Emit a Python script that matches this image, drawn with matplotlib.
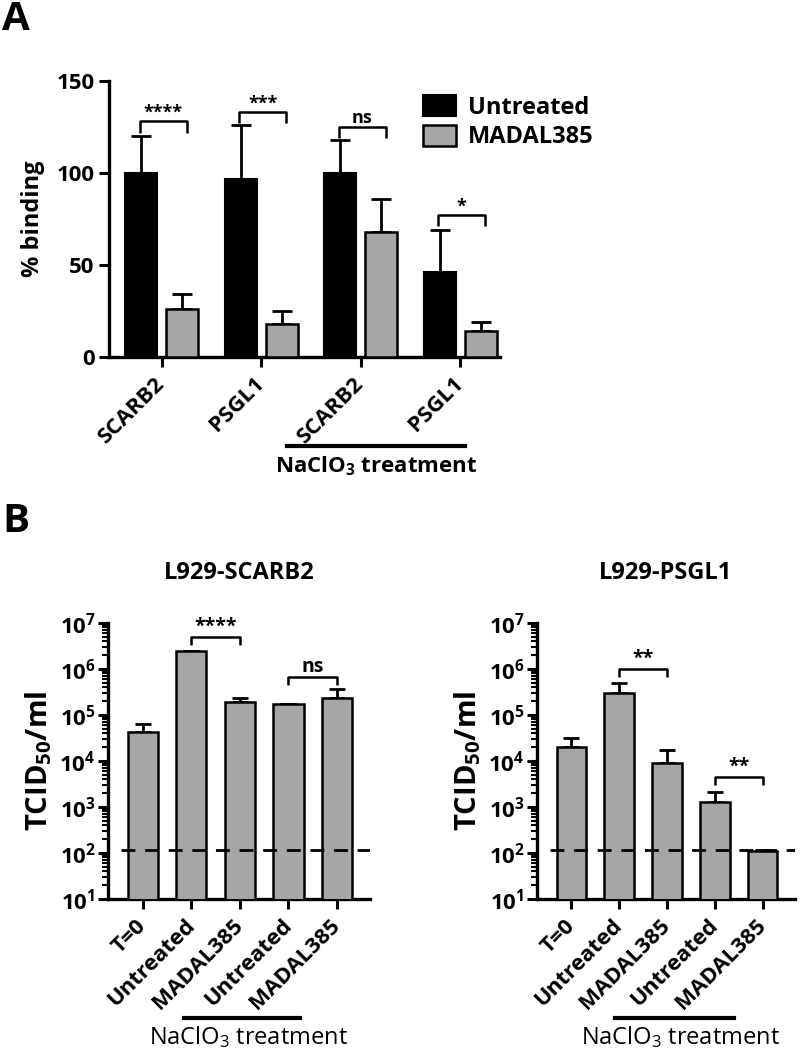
import matplotlib
matplotlib.use("Agg")
import matplotlib.pyplot as plt
import numpy as np
from matplotlib.ticker import FixedLocator, LogLocator, NullFormatter
from matplotlib.patches import Patch

# ---- datos panel A ----
cats_a = ["SCARB2", "PSGL1", "SCARB2", "PSGL1"]
untreated = [100, 97, 100, 46]
untreated_err = [20, 29, 18, 23]
madal = [26, 18, 68, 14]
madal_err = [8, 7, 18, 5]
sig_a = ["****", "***", "ns", "*"]
sig_a_y = [128, 133, 125, 77]

# ---- datos panel B ----
cats_b = ["T=0", "Untreated", "MADAL385", "Untreated", "MADAL385"]
scarb2 = [4.3e4, 2.5e6, 1.9e5, 1.7e5, 2.3e5]
scarb2_top = [6.3e4, 2.5e6, 2.4e5, 1.7e5, 3.7e5]
psgl1 = [2.0e4, 3.0e5, 9.1e3, 1.3e3, 112]
psgl1_top = [3.1e4, 5.0e5, 1.7e4, 2.1e3, 118]
lod = 118
sig_scarb2 = [(1, 2, 5.0e6, "****"), (3, 4, 6.8e5, "ns")]
sig_psgl1 = [(1, 2, 1.0e6, "**"), (3, 4, 4.5e3, "**")]

GREY = "#a6a6a9"
FONT = "Open Sans"
plt.rcParams["font.family"] = [FONT, "DejaVu Sans"]
plt.rcParams["font.weight"] = "bold"
plt.rcParams["axes.labelweight"] = "bold"
plt.rcParams["mathtext.fontset"] = "custom"
plt.rcParams["mathtext.rm"] = "Open Sans:bold"
plt.rcParams["mathtext.sf"] = "Open Sans:regular"
plt.rcParams["mathtext.default"] = "rm"

fig = plt.figure(figsize=(8, 10.53), dpi=100)


def style_axes(ax):
    for s in ["top", "right"]:
        ax.spines[s].set_visible(False)
    for s in ["left", "bottom"]:
        ax.spines[s].set_linewidth(2.4)
    ax.tick_params(width=2.2, length=7, direction="out")


def bracket(ax, x1, x2, y, label, tip, fs):
    ax.plot([x1, x1, x2, x2], [tip(y), y, y, tip(y)], color="black", lw=1.8,
            solid_capstyle="butt", clip_on=False)
    ax.text((x1 + x2) / 2, y, label, ha="center", va="bottom", fontsize=fs)


# ================= Panel A =================
axA = fig.add_axes([109 / 800, 1 - 357 / 1053, 391 / 800, 276 / 1053])
style_axes(axA)
x = np.arange(len(cats_a))
w = 0.32
axA.bar(x - 0.205, untreated, w, color="black", edgecolor="black", lw=1.5, zorder=3)
axA.bar(x + 0.205, madal, w, color=GREY, edgecolor="black", lw=1.8, zorder=3)
axA.errorbar(x - 0.205, untreated, yerr=[np.zeros(4), untreated_err], fmt="none",
             ecolor="black", elinewidth=2, capsize=7, capthick=2, zorder=2)
axA.errorbar(x + 0.205, madal, yerr=[np.zeros(4), madal_err], fmt="none",
             ecolor="black", elinewidth=2, capsize=7, capthick=2, zorder=2)
axA.set_xlim(-0.53, 3.4)
axA.set_ylim(0, 150)
axA.set_yticks([0, 50, 100, 150])
axA.set_xticks(x)
axA.set_xticklabels(cats_a, rotation=45, ha="right", va="center",
                    rotation_mode="anchor", fontsize=16)
axA.tick_params(axis="x", pad=10)
axA.tick_params(axis="y", labelsize=16)
axA.set_ylabel("% binding", fontsize=17, labelpad=8)
for i, (s, y) in enumerate(zip(sig_a, sig_a_y)):
    bracket(axA, i - 0.22, i + 0.25, y, s, lambda v: v - 6, 13)
axA.legend(handles=[Patch(facecolor="black", edgecolor="black", lw=1.5, label="Untreated"),
                    Patch(facecolor=GREY, edgecolor="black", lw=1.8, label="MADAL385")],
           loc="upper left", bbox_to_anchor=(402 / 800, 1 - 74 / 1053),
           bbox_transform=fig.transFigure, frameon=False, fontsize=17,
           handlelength=1.4, handleheight=1.0, handletextpad=0.5, labelspacing=0.2)

fig.add_artist(plt.Line2D([287 / 800, 465 / 800], [1 - 446 / 1053] * 2, color="black",
                          lw=3, transform=fig.transFigure))
fig.text(376 / 800, 1 - 466 / 1053, "NaClO$_3$ treatment", ha="center", va="center",
         fontsize=16)
fig.text(2 / 800, 1 - 19 / 1053, "A", fontsize=29, fontweight="bold", va="center")

# ================= Panel B =================
fig.text(2 / 800, 1 - 522 / 1053, "B", fontsize=29, fontweight="bold", va="center")


def panel_b(left, right, vals, tops, sigs, title, line_x, text_x):
    ax = fig.add_axes([left / 800, 1 - 899 / 1053, (right - left) / 800, 276 / 1053])
    style_axes(ax)
    xb = np.arange(len(cats_b))
    ax.set_yscale("log")
    ax.bar(xb, vals, 0.62, color=GREY, edgecolor="black", lw=1.8, zorder=3, bottom=0)
    ax.errorbar(xb, vals, yerr=[np.zeros(5), np.array(tops) - np.array(vals)],
                fmt="none", ecolor="black", elinewidth=2, capsize=6, capthick=2, zorder=2)
    ax.set_ylim(10, 1e7)
    ax.set_xlim(-0.72, 4.68)
    ax.axhline(lod, xmin=0.05, xmax=1.0, color="black", lw=2, dashes=(5, 3.5), zorder=4)
    ax.yaxis.set_major_locator(FixedLocator([10.0 ** k for k in range(1, 8)]))
    ax.set_yticklabels([f"$10^{{{k}}}$" for k in range(1, 8)], fontsize=16)
    ax.yaxis.set_minor_locator(LogLocator(base=10, subs=np.arange(2, 10), numticks=20))
    ax.yaxis.set_minor_formatter(NullFormatter())
    ax.tick_params(axis="y", which="minor", length=4, width=1.5)
    ax.tick_params(axis="y", which="major", pad=2)
    ax.set_xticks(xb)
    ax.set_xticklabels(cats_b, rotation=45, ha="right", va="center",
                       rotation_mode="anchor", fontsize=16)
    ax.tick_params(axis="x", pad=10)
    ax.set_ylabel("TCID$_{50}$/ml", fontsize=21, labelpad=4)
    for x1, x2, y, s in sigs:
        bracket(ax, x1, x2, y, s, lambda v: v / 1.5, 14)
    fig.text((left + right) / 2 / 800, 1 - 573 / 1053, title, ha="center", va="center",
             fontsize=17)
    fig.add_artist(plt.Line2D([line_x[0] / 800, line_x[1] / 800], [1 - 1018 / 1053] * 2,
                              color="black", lw=3, transform=fig.transFigure))
    fig.text(text_x / 800, 1 - 1037 / 1053, "NaClO$_{\\mathsf{3}}$ treatment", ha="center",
             va="center", fontsize=17, fontweight="normal")
    return ax


panel_b(108, 370, scarb2, scarb2_top, sig_scarb2, "L929-SCARB2", (184, 300), 248)
panel_b(537, 795, psgl1, psgl1_top, sig_psgl1, "L929-PSGL1", (615, 734), 680)

fig.savefig("out.png", dpi=100)
